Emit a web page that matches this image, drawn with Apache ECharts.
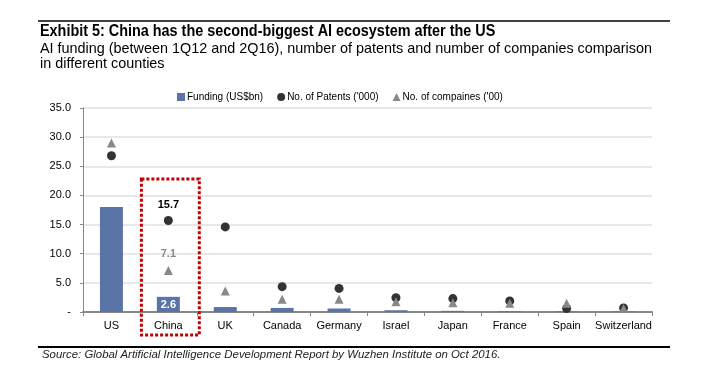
<!DOCTYPE html>
<html>
<head>
<meta charset="utf-8">
<script src="https://cdn.jsdelivr.net/npm/echarts@6/dist/echarts.min.js"></script>
<style>
  html, body { margin: 0; padding: 0; background: #fff; }
  #chart { width: 707px; height: 375px; }
</style>
</head>
<body>
<div id="chart"></div>
<script>
const countries = ["US", "China", "UK", "Canada", "Germany", "Israel", "Japan", "France", "Spain", "Switzerland"];
const funding = [18.0, 2.6, 0.85, 0.7, 0.6, 0.3, 0.2, 0.15, 0.1, 0.1];
const patents = [26.8, 15.7, 14.6, 4.35, 4.05, 2.45, 2.3, 1.9, 0.6, 0.7];
const companies = [29.0, 7.1, 3.6, 2.2, 2.2, 1.75, 1.6, 1.5, 1.5, 0.6];
const yTicks = [0, 5, 10, 15, 20, 25, 30, 35];

const chart = echarts.init(document.getElementById("chart"));
const baseFont = "Liberation Sans, Arial, sans-serif";

// only China gets data labels
const chinaIdx = countries.indexOf("China");

const option = {
  animation: false,
  textStyle: { fontFamily: baseFont },
  title: [
    {
      text: "AI funding (between 1Q12 and 2Q16), number of patents and number of companies comparison\nin different counties",
      left: 35,
      top: 36,
      textStyle: {
        fontFamily: baseFont,
        fontSize: 14.4,
        fontWeight: "normal",
        lineHeight: 15.5,
        color: "#000",
      },
    },
    {
      text: "Source: Global Artificial Intelligence Development Report by Wuzhen Institute on Oct 2016.",
      left: 37,
      top: 344,
      textStyle: {
        fontFamily: baseFont,
        fontSize: 11.4,
        fontStyle: "italic",
        fontWeight: "normal",
        color: "#222",
      },
    },
  ],
  legend: {
    left: 172,
    top: 87,
    itemWidth: 8,
    itemHeight: 8,
    itemGap: 14,
    textStyle: { fontSize: 10, color: "#000", padding: [0, 0, 0, -3] },
    data: [
      { name: "Funding (US$bn)", icon: "rect" },
      { name: "No. of Patents ('000)", icon: "circle" },
      { name: "No. of compaines ('00)", icon: "triangle" },
    ],
  },
  grid: { left: 83, right: 55, top: 108, bottom: 63 },
  xAxis: {
    type: "category",
    data: countries,
    axisLine: { lineStyle: { color: "#888", width: 2 } },
    axisTick: { show: true, length: 4, lineStyle: { color: "#888" } },
    axisLabel: { color: "#000", fontSize: 11, margin: 8, interval: 0 },
  },
  yAxis: {
    type: "value",
    min: 0,
    max: 35,
    interval: 5,
    axisLine: { show: true, lineStyle: { color: "#888" } },
    axisTick: { show: true, length: 3, lineStyle: { color: "#888" } },
    axisLabel: {
      color: "#000",
      fontSize: 11,
      margin: 12,
      formatter: (v) => (v === yTicks[0] ? "-" : v.toFixed(1)),
    },
    splitLine: { lineStyle: { color: "#e0e0e0", width: 1.5 } },
  },
  series: [
    {
      name: "Funding (US$bn)",
      type: "bar",
      barWidth: 23,
      data: funding.map((v, i) => ({
        value: v,
        label: i === chinaIdx
          ? { show: true, position: "insideTop", distance: 3, color: "#fff", fontWeight: "bold", fontSize: 11 }
          : { show: false },
      })),
      itemStyle: { color: "#5b74a8" },
      z: 2,
    },
    {
      name: "No. of Patents ('000)",
      type: "scatter",
      symbol: "circle",
      symbolSize: 9,
      data: patents.map((v, i) => ({
        value: v,
        label: i === chinaIdx
          ? { show: true, position: "top", distance: 6, color: "#000", fontWeight: "bold", fontSize: 11 }
          : { show: false },
      })),
      itemStyle: { color: "#333", opacity: 1 },
      z: 3,
    },
    {
      name: "No. of compaines ('00)",
      type: "scatter",
      symbol: "triangle",
      symbolSize: 9,
      data: companies.map((v, i) => ({
        value: v,
        label: i === chinaIdx
          ? { show: true, position: "top", distance: 7, color: "#888", fontWeight: "bold", fontSize: 11 }
          : { show: false },
      })),
      itemStyle: { color: "#888", opacity: 1 },
      z: 4,
    },
  ],
};

chart.setOption(option);

// rules above and below, condensed headline, and the red dotted highlight round China
const cx = chart.convertToPixel({ xAxisIndex: 0 }, "China");
const bandW = chart.convertToPixel({ xAxisIndex: 0 }, "UK") - cx;
const topY = chart.convertToPixel({ yAxisIndex: 0 }, 22.8);

chart.setOption({
  graphic: [
    { type: "line", shape: { x1: 38, y1: 21, x2: 670, y2: 21 }, style: { stroke: "#000", lineWidth: 1.5 } },
    { type: "line", shape: { x1: 38, y1: 347, x2: 670, y2: 347 }, style: { stroke: "#000", lineWidth: 2 } },
    {
      type: "text",
      x: 40,
      y: 24,
      scaleX: 0.9,
      style: {
        text: "Exhibit 5: China has the second-biggest AI ecosystem after the US",
        font: "bold 16px Liberation Sans, Arial, sans-serif",
        fill: "#000",
      },
    },
    {
      type: "rect",
      shape: { x: cx - bandW / 2 + 1.5, y: topY, width: bandW + 1, height: 335 - topY },
      style: { fill: "none", stroke: "#c00000", lineWidth: 3, lineDash: [3, 2] },
      z: 10,
    },
  ],
});
</script>
</body>
</html>
